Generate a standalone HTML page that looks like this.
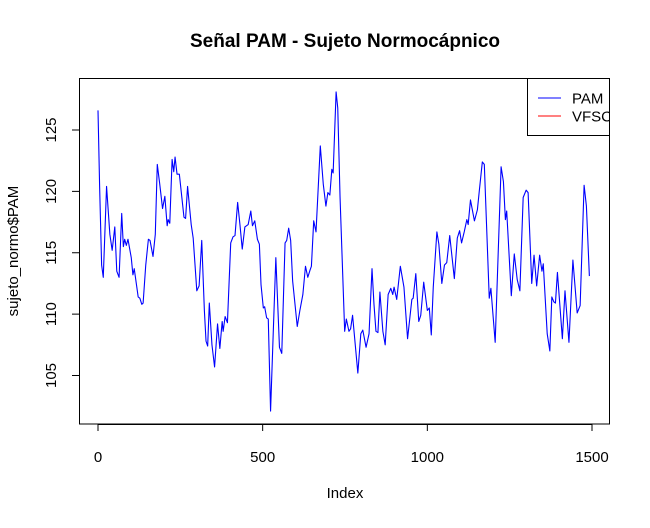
<!DOCTYPE html>
<html><head><meta charset="utf-8"><style>
html,body{margin:0;padding:0;background:#fff;}
svg text{font-family:"Liberation Sans",Arial,sans-serif;}
</style></head><body>
<svg id="chart" width="650" height="523" viewBox="0 0 650 523" xmlns="http://www.w3.org/2000/svg">
<text x="345" y="47" text-anchor="middle" font-size="19" font-weight="bold">Señal PAM - Sujeto Normocápnico</text>
<text x="345" y="498" text-anchor="middle" font-size="15">Index</text>
<text transform="translate(18,251) rotate(-90)" text-anchor="middle" font-size="15">sujeto_normo$PAM</text>
<g id="xaxis"></g>
<g id="yaxis"></g>
<path id="pam-line" fill="none" stroke="#0000ff" stroke-width="1.1" stroke-linejoin="round"/>
<rect x="79.5" y="78.5" width="530" height="345.5" fill="none" stroke="#000" stroke-width="1"/>
<g>
<rect x="527.5" y="78.5" width="90" height="57" fill="#fff" stroke="#000" stroke-width="1"/>
<line x1="538" y1="98" x2="561" y2="98" stroke="#0000ff"/>
<text x="572" y="103.5" font-size="15">PAM</text>
<line x1="538" y1="116" x2="561" y2="116" stroke="#ff0000"/>
<text x="572" y="121.5" font-size="15">VFSC</text>
</g>
<rect x="610" y="78" width="40" height="60" fill="#fff"/>
<line x1="609.5" y1="78" x2="609.5" y2="424" stroke="#000"/>
</svg>
<script>
const xTicks = [0, 500, 1000, 1500];
const yTicks = [105, 110, 115, 120, 125];
const indices = [0,5,11,16,26,36,43,51,57,64,72,77,81,86,91,101,106,110,122,127,133,137,145,153,158,167,174,180,187,196,203,210,213,218,225,230,234,240,247,253,261,266,272,283,289,300,307,315,323,328,333,338,346,354,363,370,377,380,386,393,403,410,416,424,431,438,446,456,464,469,476,484,490,495,502,506,512,517,524,532,540,551,558,568,573,579,585,591,605,613,622,630,637,644,648,655,662,675,684,692,698,704,710,714,723,728,735,749,754,762,767,773,789,798,804,814,823,832,838,844,850,856,865,872,881,889,895,899,907,918,929,940,953,957,965,974,980,989,1000,1006,1012,1018,1029,1035,1044,1052,1059,1068,1082,1091,1098,1104,1112,1120,1124,1131,1143,1152,1158,1167,1173,1188,1193,1206,1224,1231,1237,1241,1255,1264,1273,1281,1291,1300,1306,1317,1324,1332,1341,1348,1352,1364,1372,1378,1384,1389,1395,1410,1418,1430,1442,1455,1464,1476,1483,1492];
const pamValues = [126.6,120.3,114.0,113.0,120.4,116.5,115.2,117.1,113.5,113.0,118.2,115.5,116.1,115.6,116.1,114.6,113.2,113.7,111.4,111.3,110.8,110.9,114.0,116.1,116.0,114.7,116.5,122.2,120.7,118.6,119.6,117.2,117.7,117.4,122.6,121.6,122.8,121.4,121.4,119.9,117.9,117.8,120.4,117.3,116.2,111.9,112.3,116.0,110.3,107.8,107.4,110.9,107.5,105.7,109.2,107.2,109.4,108.6,109.8,109.3,115.8,116.3,116.4,119.1,117.3,115.3,117.1,117.3,118.4,117.2,117.6,116.1,115.7,112.4,110.5,110.6,109.7,109.6,102.1,108.4,114.6,107.3,106.8,115.8,116.0,117.0,116.0,112.7,109.0,110.3,111.6,113.9,113.0,113.6,113.9,117.6,116.7,123.7,120.6,118.8,119.9,119.7,121.8,121.5,128.1,126.8,119.5,108.6,109.6,108.6,108.8,109.9,105.2,108.4,108.7,107.3,108.4,113.7,110.8,108.6,108.5,111.8,108.6,107.5,111.6,112.1,111.6,112.2,111.2,113.9,112.2,108.0,111.2,111.3,113.3,109.4,109.9,112.6,110.3,110.5,108.3,112.2,116.7,115.7,112.5,114.0,114.2,116.4,112.9,116.2,116.8,115.8,116.7,117.7,117.3,119.3,117.6,118.5,120.1,122.4,122.2,111.3,112.1,107.7,122.0,120.8,117.7,118.4,111.5,114.9,112.8,111.9,119.5,120.1,119.9,112.5,114.8,112.3,114.8,113.5,114.1,108.4,107.0,111.4,111.0,110.9,113.4,108.0,111.9,107.7,114.4,110.1,110.7,120.5,118.8,113.1];

const NS = 'http://www.w3.org/2000/svg';
function xScale(v){ return 98 + (v - 0) * (592 - 98) / 1500; }
function yScale(v){ return 130 + (125 - v) * (375.5 - 130) / 20; }

const xa = document.getElementById('xaxis');
const ya = document.getElementById('yaxis');
function mk(tag, attrs, parent){ const e=document.createElementNS(NS,tag); for(const k in attrs) e.setAttribute(k,attrs[k]); parent.appendChild(e); return e; }

const xl = mk('line',{x1:xScale(xTicks[0]),x2:xScale(xTicks[xTicks.length-1]),y1:424.5,y2:424.5,stroke:'#000'},xa);


xTicks.forEach(t=>{
  const tk = mk('line',{x1:xScale(t),x2:xScale(t),y1:424,y2:431,stroke:'#000'},xa);
  
  
  const tx = mk('text',{x:xScale(t),y:462,'text-anchor':'middle','font-size':15},xa);
  tx.textContent = t;
  
  
});
const yl = mk('line',{x1:79.5,x2:79.5,y1:yScale(yTicks[0]),y2:yScale(yTicks[yTicks.length-1]),stroke:'#000'},ya);


yTicks.forEach(t=>{
  const y = yScale(t);
  const tk = mk('line',{x1:72,x2:79,y1:y,y2:y,stroke:'#000'},ya);
  
  
  const tx = mk('text',{transform:'translate(56,'+y+') rotate(-90)','text-anchor':'middle','font-size':15},ya);
  tx.textContent = t;
  
  
});
let d = '';
indices.forEach((ix,i)=>{ d += (i?'L':'M') + xScale(ix).toFixed(2) + ',' + yScale(pamValues[i]).toFixed(2); });
document.getElementById('pam-line').setAttribute('d', d);
</script>
</body></html>
